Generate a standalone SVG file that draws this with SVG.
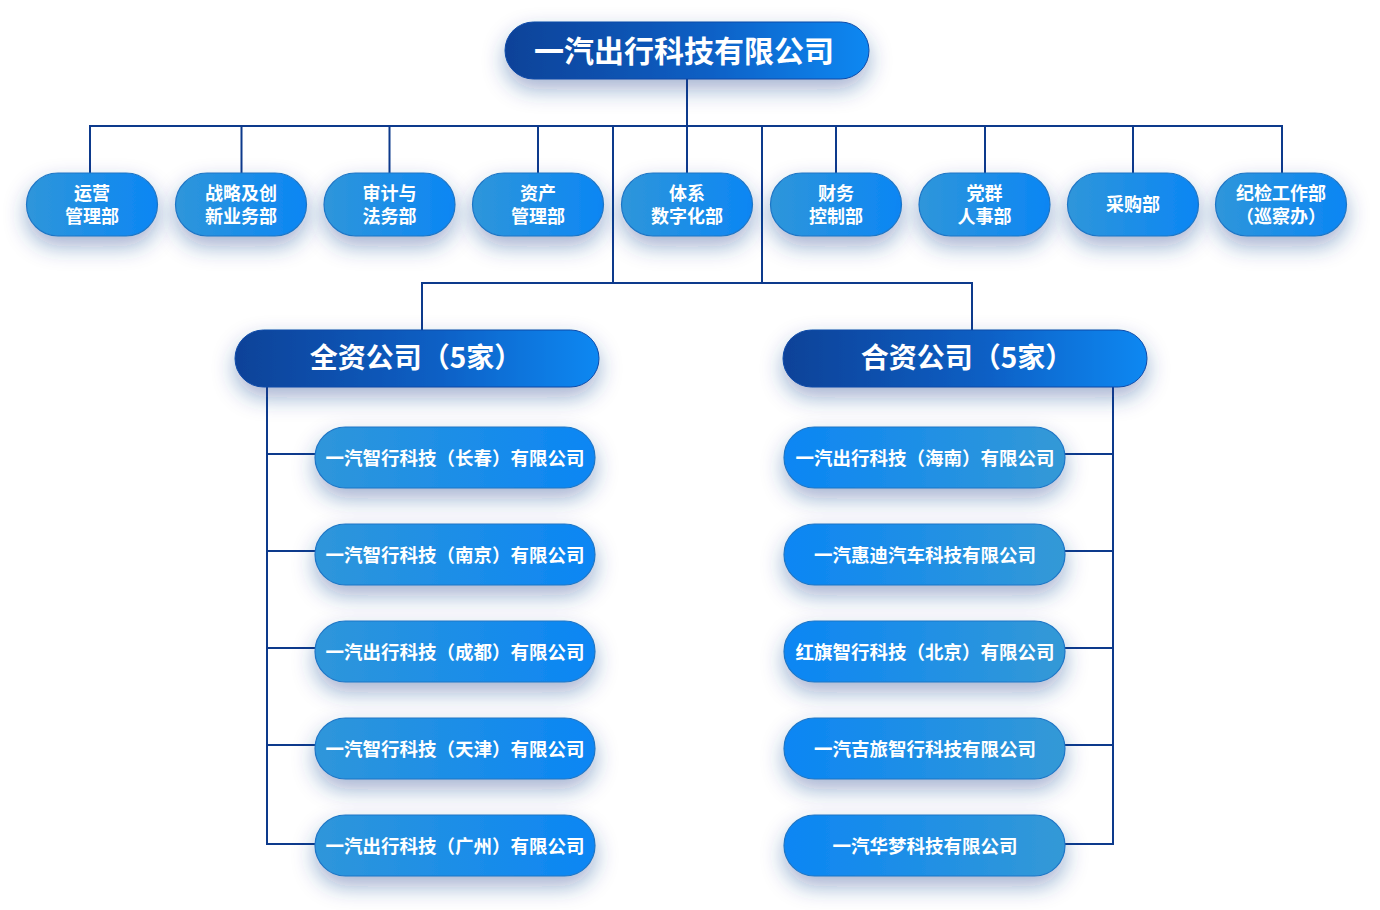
<svg xmlns="http://www.w3.org/2000/svg" width="1380" height="910" viewBox="0 0 1380 910">
<defs>
<linearGradient id="gDark" x1="0" y1="0" x2="1" y2="0">
<stop offset="0" stop-color="#0a4298"/>
<stop offset="0.55" stop-color="#0a5fc4"/>
<stop offset="1" stop-color="#0a88f2"/>
</linearGradient>
<linearGradient id="gLight" x1="0" y1="0" x2="1" y2="0">
<stop offset="0" stop-color="#2f96da"/>
<stop offset="1" stop-color="#0b86f4"/>
</linearGradient>
<linearGradient id="gLightR" x1="0" y1="0" x2="1" y2="0">
<stop offset="0" stop-color="#0b86f4"/>
<stop offset="1" stop-color="#3499d6"/>
</linearGradient>
<filter id="sh" x="-25%" y="-50%" width="150%" height="220%">
<feDropShadow dx="0" dy="10" stdDeviation="11" flood-color="#1b3d8c" flood-opacity="0.4"/>
</filter>
</defs>
<style>
.ln{stroke:#0d3a8c;stroke-width:2;fill:none}
.pd{fill:url(#gDark);stroke:#0a4aa8;stroke-width:1;filter:url(#sh)}
.pl{fill:url(#gLight);stroke:#1f76c6;stroke-width:1.2;filter:url(#sh)}
.pr{fill:url(#gLightR);stroke:#1f76c6;stroke-width:1.2;filter:url(#sh)}
text{fill:#ffffff;font-family:"Noto Sans CJK SC","Noto Sans",sans-serif;font-weight:700;text-anchor:middle}
.t0{font-size:30px}
.th{font-size:28px}
.td{font-size:18px}
.tc{font-size:18.5px}
</style>
<rect width="1380" height="910" fill="#ffffff"/>
<g id="connectors">
<path class="ln" d="M687 79 V126"/>
<path class="ln" d="M90 173 V126 H1282 V173"/>
<path class="ln" d="M241.5 126 V173 M389.5 126 V173 M538 126 V173 M687 126 V173 M836 126 V173 M985 126 V173 M1133 126 V173"/>
<path class="ln" d="M613 126 V283 M762 126 V283"/>
<path class="ln" d="M422 330 V283 H972 V330"/>
<path class="ln" d="M267 387 V844 H315 M267 454 H315 M267 551 H315 M267 648 H315 M267 745 H315"/>
<path class="ln" d="M1113 387 V844 H1065 M1113 454 H1065 M1113 551 H1065 M1113 648 H1065 M1113 745 H1065"/>
</g>
<g id="root">
<rect class="pd" x="505" y="22" width="364" height="57" rx="28.5"/>
<text class="t0" x="684" y="62">一汽出行科技有限公司</text>
</g>
<g id="d1"><rect class="pl" x="26.5" y="173" width="131" height="63" rx="31.5"/><text class="td" x="92" y="199.5">运营</text><text class="td" x="92" y="223">管理部</text></g>
<g id="d2"><rect class="pl" x="175.5" y="173" width="131" height="63" rx="31.5"/><text class="td" x="241" y="199.5">战略及创</text><text class="td" x="241" y="223">新业务部</text></g>
<g id="d3"><rect class="pl" x="324" y="173" width="131" height="63" rx="31.5"/><text class="td" x="389.5" y="199.5">审计与</text><text class="td" x="389.5" y="223">法务部</text></g>
<g id="d4"><rect class="pl" x="472.5" y="173" width="131" height="63" rx="31.5"/><text class="td" x="538" y="199.5">资产</text><text class="td" x="538" y="223">管理部</text></g>
<g id="d5"><rect class="pl" x="621.5" y="173" width="131" height="63" rx="31.5"/><text class="td" x="687" y="199.5">体系</text><text class="td" x="687" y="223">数字化部</text></g>
<g id="d6"><rect class="pl" x="770.5" y="173" width="131" height="63" rx="31.5"/><text class="td" x="836" y="199.5">财务</text><text class="td" x="836" y="223">控制部</text></g>
<g id="d7"><rect class="pl" x="919" y="173" width="131" height="63" rx="31.5"/><text class="td" x="984.5" y="199.5">党群</text><text class="td" x="984.5" y="223">人事部</text></g>
<g id="d8"><rect class="pl" x="1067.5" y="173" width="131" height="63" rx="31.5"/><text class="td" x="1133" y="211">采购部</text></g>
<g id="d9"><rect class="pl" x="1215.5" y="173" width="131" height="63" rx="31.5"/><text class="td" x="1281" y="199.5">纪检工作部</text><text class="td" x="1281" y="223">（巡察办）</text></g>
<g id="h1"><rect class="pd" x="235" y="330" width="364" height="57" rx="28.5"/><text class="th" x="416" y="368">全资公司（5家）</text></g>
<g id="h2"><rect class="pd" x="783" y="330" width="364" height="57" rx="28.5"/><text class="th" x="967" y="368">合资公司（5家）</text></g>
<g id="l1"><rect class="pl" x="315" y="427" width="280" height="61" rx="30.5"/><text class="tc" x="455" y="464.5">一汽智行科技（长春）有限公司</text></g>
<g id="l2"><rect class="pl" x="315" y="524" width="280" height="61" rx="30.5"/><text class="tc" x="455" y="561.5">一汽智行科技（南京）有限公司</text></g>
<g id="l3"><rect class="pl" x="315" y="621" width="280" height="61" rx="30.5"/><text class="tc" x="455" y="658.5">一汽出行科技（成都）有限公司</text></g>
<g id="l4"><rect class="pl" x="315" y="718" width="280" height="61" rx="30.5"/><text class="tc" x="455" y="755.5">一汽智行科技（天津）有限公司</text></g>
<g id="l5"><rect class="pl" x="315" y="815" width="280" height="61" rx="30.5"/><text class="tc" x="455" y="852.5">一汽出行科技（广州）有限公司</text></g>
<g id="r1"><rect class="pr" x="784" y="427" width="281" height="61" rx="30.5"/><text class="tc" x="925" y="464.5">一汽出行科技（海南）有限公司</text></g>
<g id="r2"><rect class="pr" x="784" y="524" width="281" height="61" rx="30.5"/><text class="tc" x="925" y="561.5">一汽惠迪汽车科技有限公司</text></g>
<g id="r3"><rect class="pr" x="784" y="621" width="281" height="61" rx="30.5"/><text class="tc" x="925" y="658.5">红旗智行科技（北京）有限公司</text></g>
<g id="r4"><rect class="pr" x="784" y="718" width="281" height="61" rx="30.5"/><text class="tc" x="925" y="755.5">一汽吉旅智行科技有限公司</text></g>
<g id="r5"><rect class="pr" x="784" y="815" width="281" height="61" rx="30.5"/><text class="tc" x="925" y="852.5">一汽华梦科技有限公司</text></g>
</svg>
